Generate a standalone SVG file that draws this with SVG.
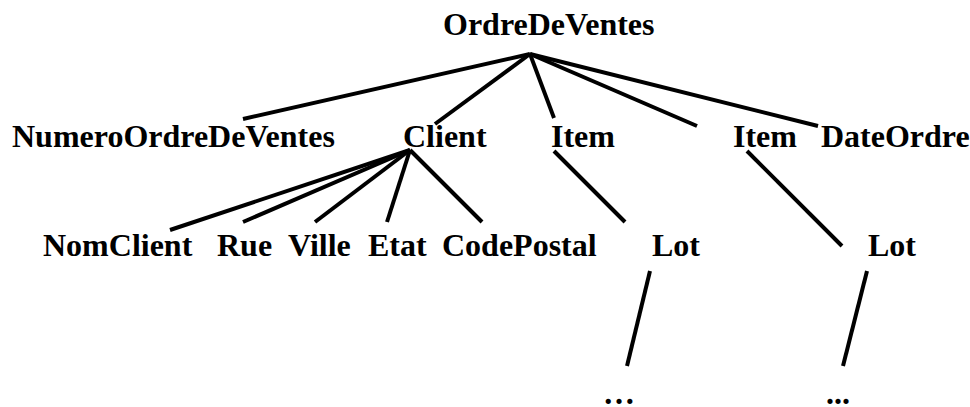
<svg xmlns="http://www.w3.org/2000/svg" width="970" height="407" viewBox="0 0 970 407">
  <style>
    .lbl { font-family: "Liberation Serif", "Times New Roman", serif; font-weight: bold; font-size: 32px; fill: #000; }
    .edge { stroke: #000; stroke-width: 4; fill: none; }
  </style>
  <rect width="970" height="407" fill="#fff"/>

  <!-- tree edges -->
  <g id="connectors">
    <line class="edge" x1="530" y1="54" x2="243" y2="119"/>
    <line class="edge" x1="530" y1="54" x2="435" y2="124"/>
    <line class="edge" x1="530" y1="54" x2="554" y2="118"/>
    <line class="edge" x1="530" y1="54" x2="697" y2="126"/>
    <line class="edge" x1="530" y1="54" x2="818" y2="126"/>

    <line class="edge" x1="410" y1="150" x2="170" y2="230"/>
    <line class="edge" x1="410" y1="150" x2="243" y2="222"/>
    <line class="edge" x1="410" y1="150" x2="315" y2="222"/>
    <line class="edge" x1="410" y1="150" x2="387" y2="222"/>
    <line class="edge" x1="410" y1="150" x2="482" y2="222"/>

    <line class="edge" x1="554" y1="151" x2="625" y2="222"/>
    <line class="edge" x1="747" y1="151" x2="842" y2="246"/>

    <line class="edge" x1="650" y1="271" x2="627" y2="366"/>
    <line class="edge" x1="867" y1="271" x2="843" y2="366"/>
  </g>

  <!-- nodes -->
  <g id="node-ordre"><text class="lbl" x="443" y="35">OrdreDeVentes</text></g>

  <g id="node-numero"><text class="lbl" x="12" y="147">NumeroOrdreDeVentes</text></g>
  <g id="node-client"><text class="lbl" x="403" y="147">Client</text></g>
  <g id="node-item1"><text class="lbl" x="551" y="147">Item</text></g>
  <g id="node-item2"><text class="lbl" x="733" y="147">Item</text></g>
  <g id="node-date"><text class="lbl" x="821" y="147">DateOrdre</text></g>

  <g id="node-nomclient"><text class="lbl" x="43" y="256">NomClient</text></g>
  <g id="node-rue"><text class="lbl" x="217" y="256">Rue</text></g>
  <g id="node-ville"><text class="lbl" x="288" y="256">Ville</text></g>
  <g id="node-etat"><text class="lbl" x="368" y="256">Etat</text></g>
  <g id="node-codepostal"><text class="lbl" x="442" y="256">CodePostal</text></g>
  <g id="node-lot1"><text class="lbl" x="652" y="256">Lot</text></g>
  <g id="node-lot2"><text class="lbl" x="868" y="256">Lot</text></g>

  <g id="node-more1"><text class="lbl" x="603" y="404">…</text></g>
  <g id="node-more2"><text class="lbl" x="826" y="404">...</text></g>
</svg>
